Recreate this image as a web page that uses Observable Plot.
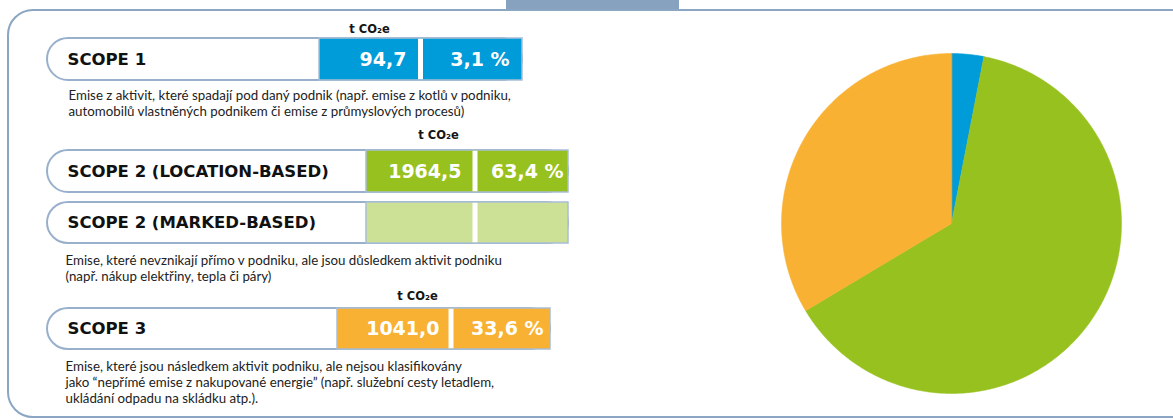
<!DOCTYPE html>
<html><head><meta charset="utf-8">
<script src="https://cdn.jsdelivr.net/npm/d3@7"></script>
<script src="https://cdn.jsdelivr.net/npm/@observablehq/plot@0.6"></script>
<style>body{margin:0;background:#fff;overflow:hidden}</style>
</head><body><div id="chart"></div>
<script>
// ---------- DATA ----------
const scopes = ["SCOPE 1", "SCOPE 2 (LOCATION-BASED)", "SCOPE 2 (MARKED-BASED)", "SCOPE 3"];
const emissions = [94.7, 1964.5, null, 1041.0];          // t CO2e
const shares = [3.1, 63.4, null, 33.6];                  // %
const scopeColors = ["#009bd9", "#97c11f", "#cde196", "#f8b133"];
const unitLabel = "t CO₂e";
const descriptions = [
  ["Emise z aktivit, které spadají pod daný podnik (např. emise z kotlů v podniku,",
   "automobilů vlastněných podnikem či emise z průmyslových procesů)"],
  ["Emise, které nevznikají přímo v podniku, ale jsou důsledkem aktivit podniku",
   "(např. nákup elektřiny, tepla či páry)"],
  ["Emise, které jsou následkem aktivit podniku, ale nejsou klasifikovány",
   "jako “nepřímé emise z nakupované energie” (např. služební cesty letadlem,",
   "ukládání odpadu na skládku atp.)."]
];
const pieScopes = [0, 1, 3]; // scopes shown in the pie (location-based scope 2)

// ---------- LAYOUT (pixels) ----------
const W = 1173, H = 420;
const rowTop = [38, 150, 202, 308];
const rowBottom = [80, 192, 243, 349];
const rowLeft = 47;
const cellStart = [319, 366, 366, 337];
const divider = [420, 474.5, 474.5, 450.5];
const rowRight = [522, 568, 568, 550];
const valueRight = [406, 461, null, 439];
const shareRight = [509, 563, null, 543];
const unitX = [369, 438, null, 417];
const unitY = [29, 135, null, 296];
const descX = [68, 65, 65];
const descY = [95, 260, 366];
const descLH = 16;
const pieCx = 951, pieCy = 223, pieR = 170;
const frameStroke = "#8aa6c2", boxStroke = "#98b0cc";

const fmt = v => v.toFixed(1).replace(".", ",");

const rows = scopes.map((s, i) => ({
  label: s, value: emissions[i], share: shares[i], color: scopeColors[i],
  top: rowTop[i], bottom: rowBottom[i], mid: (rowTop[i] + rowBottom[i]) / 2,
  left: rowLeft, cell: cellStart[i], div: divider[i], right: rowRight[i],
  vx: valueRight[i], sx: shareRight[i], ux: unitX[i], uy: unitY[i]
}));
const valued = rows.filter(r => r.value != null);

const descLines = descriptions.flatMap((lines, k) =>
  lines.map((t, j) => ({text: t, x: descX[k], y: descY[k] + j * descLH})));

// pie polygons from data via d3.pie
const pieData = pieScopes.map(i => ({key: scopes[i], value: emissions[i], color: scopeColors[i]}));
const arcs = d3.pie().sort(null).value(d => d.value)(pieData);
const piePts = arcs.flatMap(a => {
  const pts = [{slice: a.data.key, color: a.data.color, x: pieCx, y: pieCy}];
  const n = Math.max(2, Math.ceil((a.endAngle - a.startAngle) / (Math.PI / 360)));
  for (let k = 0; k <= n; k++) {
    const ang = a.startAngle + (a.endAngle - a.startAngle) * k / n;
    pts.push({slice: a.data.key, color: a.data.color,
      x: pieCx + pieR * Math.sin(ang), y: pieCy - pieR * Math.cos(ang)});
  }
  return pts;
});

const frame = [{x1: 8, x2: W + 200, y1: 10, y2: 417}];
const tab = [{x1: 506, x2: 679, y1: -10, y2: 9}];

const chart = Plot.plot({
  width: W, height: H,
  margin: 0,
  x: {domain: [0, W], range: [0, W], axis: null},
  y: {domain: [0, H], range: [0, H], axis: null},
  color: {type: "identity"},
  style: {background: "white"},
  marks: [
    Plot.rect(frame, {x1: "x1", x2: "x2", y1: "y1", y2: "y2", rx: 25, fill: "none", stroke: frameStroke, strokeWidth: 2}),
    Plot.rect(tab, {x1: "x1", x2: "x2", y1: "y1", y2: "y2", fill: "#87a2be"}),
    // row boxes
    Plot.rect(rows, {x1: "left", x2: "right", y1: "top", y2: "bottom", rx: 21, fill: "white", stroke: boxStroke, strokeWidth: 2}),
    // colored cells
    Plot.rect(rows, {x1: "cell", x2: "right", y1: "top", y2: "bottom", fill: "color", stroke: "#a9bdd5", strokeWidth: 1.5}),
    Plot.ruleX(rows, {x: "div", y1: d => d.top + 0.8, y2: d => d.bottom - 0.8, stroke: "white", strokeWidth: 5}),
    // labels
    Plot.text(rows, {x: d => d.left + 20, y: "mid", text: "label", textAnchor: "start", fontFamily: "DejaVu Sans", fontWeight: "bold", fontSize: 16.5, fill: "#111"}),
    Plot.text(valued, {x: "vx", y: "mid", text: d => fmt(d.value), textAnchor: "end", fontFamily: "DejaVu Sans", fontWeight: "bold", fontSize: 19, fill: "white"}),
    Plot.text(valued, {x: "sx", y: "mid", text: d => fmt(d.share) + " %", textAnchor: "end", fontFamily: "DejaVu Sans", fontWeight: "bold", fontSize: 19, fill: "white"}),
    Plot.text(valued, {x: "ux", y: "uy", text: () => unitLabel, fontFamily: "DejaVu Sans", fontWeight: "bold", fontSize: 11.5, fill: "#151515"}),
    // descriptions
    Plot.text(descLines, {x: "x", y: "y", text: "text", textAnchor: "start", fontFamily: "Lato", fontSize: 13.3, fill: "#222"}),
    // pie
    Plot.line(piePts, {x: "x", y: "y", z: "slice", fill: "color", stroke: "color", strokeWidth: 0.5, curve: "linear-closed"})
  ]
});
document.getElementById("chart").append(chart);
</script>
</body></html>
